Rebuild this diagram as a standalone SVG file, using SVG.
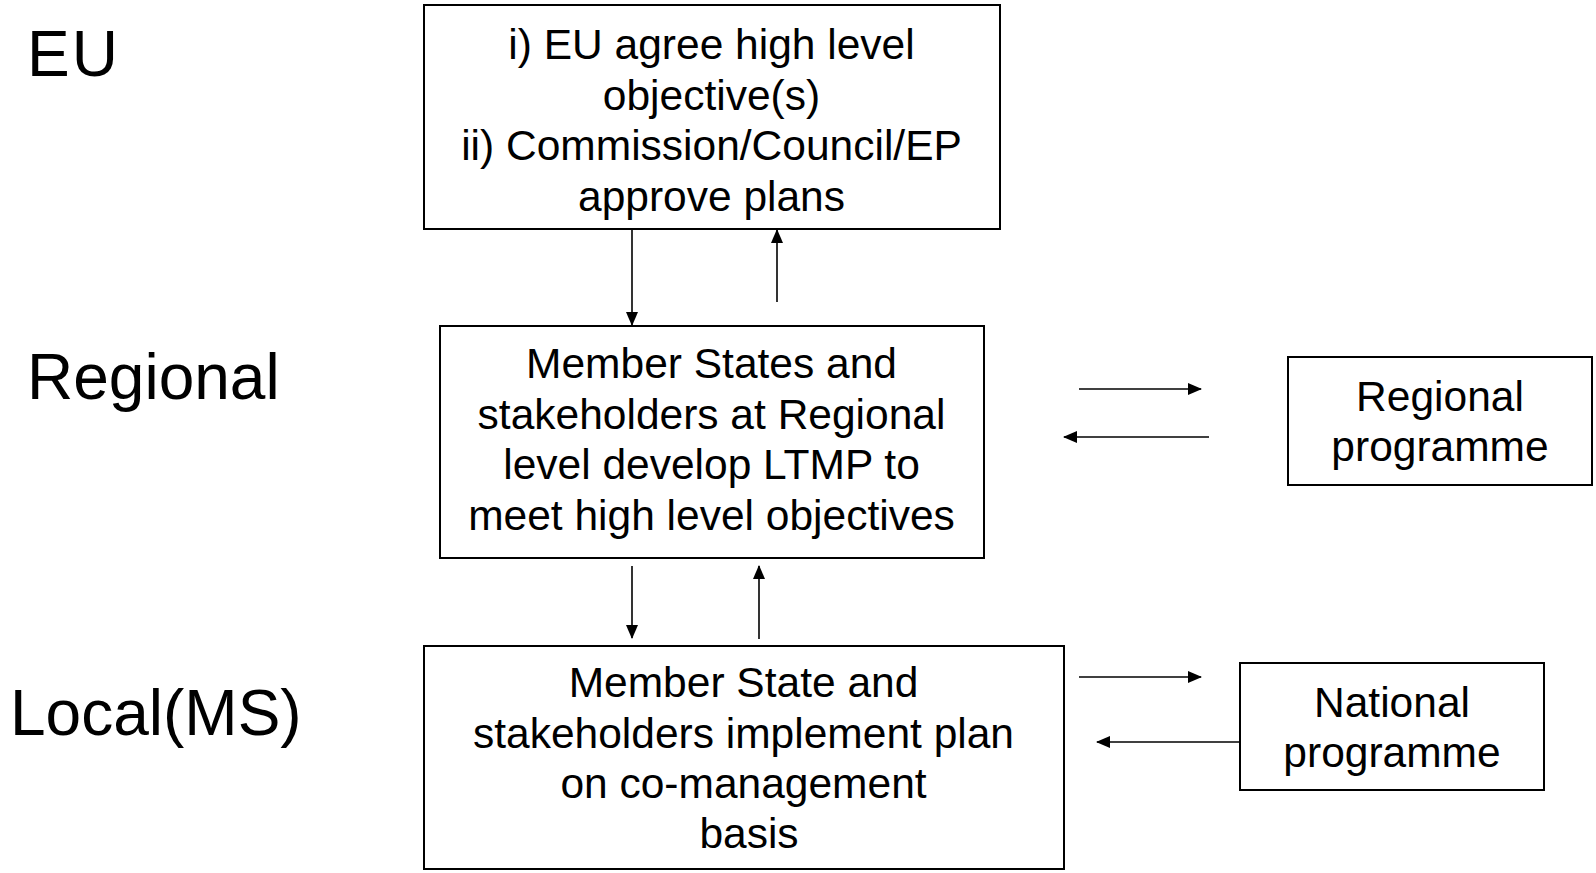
<svg xmlns="http://www.w3.org/2000/svg" width="1596" height="873" viewBox="0 0 1596 873">
<style>
.box{fill:#fff;stroke:#000;stroke-width:2}
.t{font-family:"Liberation Sans",Arial,sans-serif;font-size:42.5px;fill:#000;text-anchor:middle}
.lbl{font-family:"Liberation Sans",Arial,sans-serif;font-size:64px;fill:#000}
.c{stroke:#000;stroke-width:1.6;fill:none;marker-end:url(#ah)}
</style>
<defs>
<marker id="ah" markerUnits="userSpaceOnUse" markerWidth="14" markerHeight="12" refX="13" refY="6" orient="auto">
<path d="M0,0 L14,6 L0,12 Z" fill="#000"/>
</marker>
</defs>
<rect width="1596" height="873" fill="#fff"/>
<g id="labels">
<text class="lbl" x="27" y="76" letter-spacing="2">EU</text>
<text class="lbl" x="27" y="399">Regional</text>
<text class="lbl" x="10" y="735">Local(MS)</text>
</g>
<g id="eu">
<rect class="box" x="424" y="5" width="576" height="224"/>
<text class="t" x="711.5" y="59">i) EU agree high level</text>
<text class="t" x="711.5" y="109.5">objective(s)</text>
<text class="t" x="711.5" y="160">ii) Commission/Council/EP</text>
<text class="t" x="711.5" y="210.5">approve plans</text>
</g>
<g id="regional">
<rect class="box" x="440" y="326" width="544" height="232"/>
<text class="t" x="711.5" y="378">Member States and</text>
<text class="t" x="711.5" y="429">stakeholders at Regional</text>
<text class="t" x="711.5" y="479">level develop LTMP to</text>
<text class="t" x="711.5" y="530">meet high level objectives</text>
</g>
<g id="local">
<rect class="box" x="424" y="646" width="640" height="223"/>
<text class="t" x="743.5" y="697">Member State and</text>
<text class="t" x="743.5" y="748">stakeholders implement plan</text>
<text class="t" x="743.5" y="798">on co-management</text>
<text class="t" x="749" y="848">basis</text>
</g>
<g id="regprog">
<rect class="box" x="1288" y="357" width="304" height="128"/>
<text class="t" x="1440" y="411">Regional</text>
<text class="t" x="1440" y="461">programme</text>
</g>
<g id="natprog">
<rect class="box" x="1240" y="663" width="304" height="127"/>
<text class="t" x="1392" y="717">National</text>
<text class="t" x="1392" y="767">programme</text>
</g>
<g id="connectors">
<line class="c" x1="632" y1="229" x2="632" y2="325"/>
<line class="c" x1="777" y1="302" x2="777" y2="230"/>
<line class="c" x1="632" y1="566" x2="632" y2="638"/>
<line class="c" x1="759" y1="639" x2="759" y2="566"/>
<line class="c" x1="1079" y1="389" x2="1201" y2="389"/>
<line class="c" x1="1209" y1="437" x2="1064" y2="437"/>
<line class="c" x1="1079" y1="677" x2="1201" y2="677"/>
<line class="c" x1="1240" y1="742" x2="1097" y2="742"/>
</g>
</svg>
